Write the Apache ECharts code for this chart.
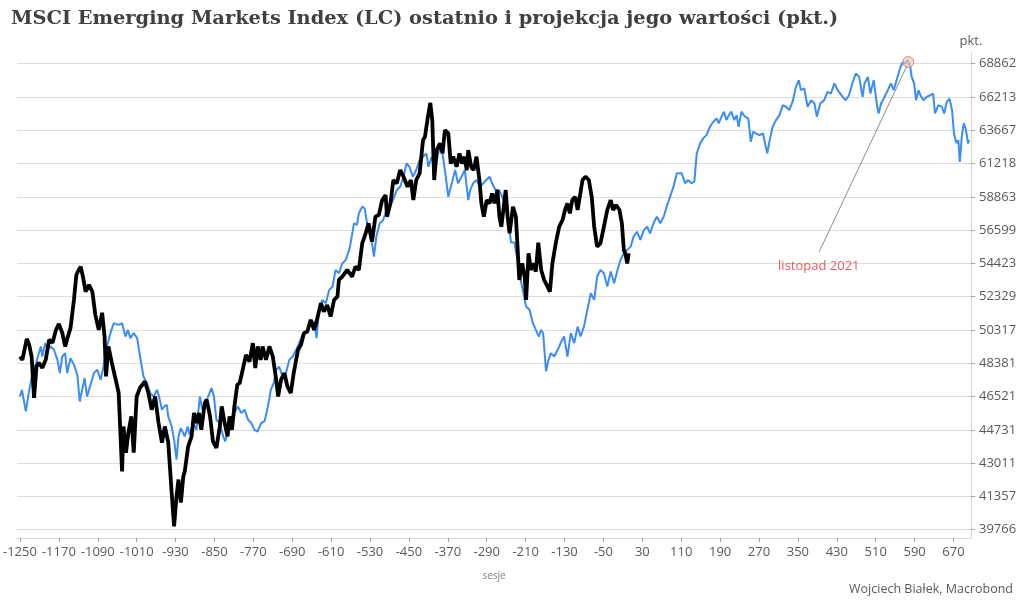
<!DOCTYPE html>
<html>
<head>
<meta charset="utf-8">
<script src="https://cdn.jsdelivr.net/npm/echarts@6/dist/echarts.min.js"></script>
<style>
html,body{margin:0;padding:0;background:#fff;}
#chart{width:1024px;height:611px;}
</style>
</head>
<body>
<div id="chart"></div>
<script>
// ---- data ----
const titleText = 'MSCI Emerging Markets Index (LC) ostatnio i projekcja jego wartości (pkt.)';
const xTickLabels = [-1250,-1170,-1090,-1010,-930,-850,-770,-690,-610,-530,-450,-370,-290,-210,-130,-50,30,110,190,270,350,430,510,590,670];
const yTickLabels = [39766,41357,43011,44731,46521,48381,50317,52329,54423,56599,58863,61218,63667,66213,68862];

// historical MSCI EM (black), [session, points]
const historyData = [[-1250,48766],[-1245,48574],[-1236,49795],[-1231,49446],[-1226,48766],[-1221,46449],[-1216,48193],[-1211,48400],[-1204,48121],[-1197,48574],[-1190,49737],[-1183,49562],[-1176,50317],[-1170,50679],[-1163,50143],[-1157,49347],[-1151,49969],[-1146,50438],[-1139,52129],[-1134,53690],[-1129,54004],[-1125,54211],[-1120,53501],[-1115,52641],[-1108,53062],[-1101,52622],[-1095,51223],[-1088,50317],[-1081,51344],[-1076,49928],[-1073,47635],[-1068,49347],[-1061,48400],[-1054,47563],[-1047,46726],[-1040,42595],[-1037,44908],[-1032,43544],[-1027,44576],[-1021,45445],[-1016,43544],[-1010,46521],[-1003,47005],[-993,47356],[-986,46726],[-979,45805],[-972,46521],[-965,45107],[-958,44060],[-952,44908],[-945,44060],[-938,41539],[-933,39923],[-928,41357],[-924,42184],[-919,41054],[-914,42349],[-911,42595],[-907,42531],[-904,43869],[-897,44385],[-892,45628],[-887,45091],[-882,45628],[-877,44731],[-870,46165],[-866,46344],[-859,45445],[-853,44127],[-846,43787],[-839,44908],[-835,45982],[-829,45091],[-823,44385],[-819,45445],[-814,44731],[-809,45982],[-803,47172],[-798,47267],[-792,48009],[-785,48865],[-778,48476],[-771,49545],[-766,48104],[-761,49347],[-755,48574],[-751,49347],[-744,48574],[-737,49347],[-730,48766],[-723,47451],[-719,46521],[-713,47451],[-706,47825],[-700,47077],[-693,46709],[-687,47825],[-682,48574],[-678,49155],[-672,49446],[-666,50126],[-659,50220],[-652,50921],[-645,50317],[-640,50818],[-631,51930],[-625,51410],[-618,51813],[-611,51120],[-604,52129],[-597,52329],[-594,53376],[-587,53583],[-577,54004],[-567,53583],[-560,54211],[-553,54004],[-546,55731],[-539,56384],[-533,57054],[-526,55835],[-519,57502],[-512,57615],[-505,58636],[-498,58981],[-495,57502],[-488,58410],[-482,60041],[-475,59808],[-468,60749],[-461,60275],[-453,59568],[-446,60041],[-441,58636],[-435,60041],[-428,60515],[-421,62933],[-417,63176],[-411,64683],[-406,65753],[-402,64431],[-398,60041],[-393,62198],[-386,62690],[-381,61955],[-376,63667],[-369,63423],[-364,61218],[-359,61710],[-352,60984],[-346,61955],[-341,61218],[-336,61710],[-331,60749],[-328,62198],[-322,60984],[-317,60749],[-311,61710],[-305,60041],[-301,58412],[-296,57502],[-290,58636],[-284,58410],[-279,59101],[-274,58410],[-268,59335],[-264,57502],[-260,56823],[-255,58181],[-251,59335],[-247,57502],[-243,56384],[-236,58181],[-230,57502],[-223,53376],[-217,54423],[-212,53583],[-209,52129],[-204,55076],[-199,54004],[-195,54423],[-189,53899],[-184,55770],[-178,54004],[-172,53376],[-165,52955],[-160,52641],[-155,54423],[-148,55731],[-141,56823],[-134,57278],[-129,57957],[-124,58410],[-119,57731],[-114,58636],[-108,58863],[-103,57957],[-93,60041],[-87,60275],[-80,60041],[-74,58863],[-69,56823],[-63,55509],[-56,55731],[-49,56823],[-42,57957],[-35,58636],[-30,57957],[-24,58296],[-17,57957],[-12,57054],[-8,55294],[-5,55076],[-1,54423],[2,55076]];

// projection (blue), [session, points]
const projectionData = [[-1250,46521],[-1246,46893],[-1241,46165],[-1238,45714],[-1232,46709],[-1228,47267],[-1224,47825],[-1217,48381],[-1211,48964],[-1207,49347],[-1204,48766],[-1198,49545],[-1193,49155],[-1187,49347],[-1180,49155],[-1173,48574],[-1168,47825],[-1163,48766],[-1157,48964],[-1153,47825],[-1146,48673],[-1139,48288],[-1132,47730],[-1127,46251],[-1122,46893],[-1117,47546],[-1112,46521],[-1105,47172],[-1098,47825],[-1091,48009],[-1084,47451],[-1078,48193],[-1071,49347],[-1064,50126],[-1057,50722],[-1047,50619],[-1040,50722],[-1033,49928],[-1028,50317],[-1023,49831],[-1016,50126],[-1009,49831],[-1003,48766],[-996,47635],[-989,47267],[-982,46709],[-975,46521],[-968,46893],[-964,46521],[-958,45805],[-953,45982],[-948,46072],[-945,45445],[-938,44908],[-933,44215],[-928,43183],[-924,44385],[-919,44822],[-911,44385],[-905,44908],[-901,44472],[-894,45091],[-887,44731],[-880,46521],[-875,45805],[-868,46165],[-863,46521],[-856,46988],[-851,46521],[-846,45268],[-839,45091],[-832,44385],[-828,44127],[-822,44643],[-815,45091],[-809,45628],[-802,45982],[-795,45628],[-788,45805],[-781,45268],[-774,45091],[-768,44731],[-761,44643],[-754,45091],[-747,45177],[-740,45982],[-734,46893],[-728,47267],[-723,48009],[-717,48193],[-710,47635],[-703,47825],[-696,48574],[-689,48766],[-682,49155],[-676,49545],[-669,50029],[-659,50317],[-652,50722],[-645,50818],[-640,49831],[-635,51525],[-628,52129],[-621,51930],[-614,52748],[-607,52955],[-601,54004],[-594,53797],[-587,54423],[-580,54640],[-573,55294],[-570,55731],[-563,57054],[-557,56941],[-553,57731],[-546,58181],[-541,58072],[-536,57054],[-530,56167],[-526,55731],[-522,54860],[-517,56167],[-510,57054],[-503,57278],[-496,57957],[-490,58181],[-483,58636],[-475,59335],[-468,59568],[-461,60275],[-455,61218],[-449,60984],[-442,60275],[-435,60749],[-428,61463],[-421,61710],[-414,61955],[-410,60984],[-403,61710],[-396,60749],[-390,61955],[-383,62448],[-376,60749],[-369,58863],[-362,59808],[-355,60749],[-349,59808],[-342,60275],[-335,60749],[-328,58636],[-324,59335],[-318,59808],[-311,60041],[-304,59568],[-297,59808],[-291,60041],[-284,60275],[-279,59808],[-272,59335],[-265,59335],[-258,58863],[-251,58181],[-245,57054],[-240,55770],[-233,55770],[-228,54860],[-223,53797],[-216,52748],[-209,51725],[-202,51525],[-195,50722],[-189,50317],[-183,49928],[-178,50317],[-174,50126],[-168,47918],[-163,48574],[-158,48964],[-151,48766],[-144,49155],[-138,49545],[-131,49928],[-124,48766],[-117,50126],[-110,49545],[-103,50516],[-97,49928],[-90,50516],[-83,51525],[-76,52541],[-69,52129],[-63,53583],[-56,54004],[-49,53797],[-42,52955],[-35,53899],[-28,53167],[-21,54004],[-15,54640],[-8,55076],[-1,55294],[6,55509],[12,56167],[19,56489],[26,55948],[33,56599],[40,56823],[46,56384],[53,57054],[60,57502],[67,57054],[74,57502],[80,58181],[87,58863],[94,59568],[101,60515],[104,60631],[111,60515],[118,59808],[124,60041],[131,59808],[137,59925],[142,61955],[149,62690],[155,63058],[162,63300],[169,63922],[176,64304],[183,64564],[187,64182],[193,64690],[198,65073],[203,64431],[208,64813],[213,65073],[219,64431],[224,64813],[228,63922],[234,65073],[241,64690],[248,64564],[253,62812],[258,63545],[264,63423],[271,63300],[278,63423],[281,63300],[287,61955],[292,62933],[298,63922],[305,64431],[312,64813],[319,65577],[326,65447],[332,65195],[339,65826],[346,67008],[352,67540],[356,66743],[363,66878],[370,65447],[377,65958],[384,65705],[389,64690],[396,65705],[404,65958],[411,66608],[418,66480],[425,67275],[432,66743],[442,66213],[448,65958],[455,66346],[462,67275],[469,68070],[476,67800],[483,66213],[487,67275],[494,67800],[499,66480],[506,67540],[513,65447],[516,64935],[521,65705],[528,66213],[535,66743],[541,67275],[547,66743],[554,67673],[561,68595],[566,68997],[571,68862],[576,69137],[581,68595],[584,67800],[589,67275],[593,65958],[598,66743],[602,66346],[608,65958],[615,66213],[622,66346],[628,66480],[632,64935],[639,65577],[646,65447],[651,64935],[656,65826],[662,66082],[667,65195],[671,63423],[676,62690],[680,62933],[683,61338],[687,63176],[691,64182],[695,63795],[700,62690],[702,62933]];

// annotation: projected peak (listopad 2021)
const peakPoint = [577, 68990];
const peakLabel = 'listopad 2021';
const peakLabelAt = [393, 54255];
const peakLineFrom = [394, 55183];

// ---- log transform (axis ticks grow by 4% each) ----
const BASE = yTickLabels[0], STEP = Math.log(1.04);
const tf = v => Math.log(v / BASE) / STEP;
const yTickPos = yTickLabels.map(tf);
const mapData = arr => arr.map(p => [p[0], tf(p[1])]);

const font = 'Open Sans, Noto Sans, sans-serif';
const chart = echarts.init(document.getElementById('chart'), null, {renderer: 'canvas'});
chart.setOption({
  animation: false,
  backgroundColor: '#ffffff',
  title: {
    text: titleText, left: 6, top: 4,
    textStyle: {fontFamily: 'DejaVu Serif, serif', fontWeight: 'bold', fontSize: 19.4, color: '#404040'}
  },
  grid: {left: 11, right: 53, top: 52, bottom: 73, containLabel: false},
  xAxis: {
    type: 'value', min: -1256, max: 706,
    name: 'sesje', nameLocation: 'middle', nameGap: 33,
    nameTextStyle: {fontFamily: font, fontSize: 10, color: '#7f7f7f'},
    axisLine: {show: true, onZero: false, lineStyle: {color: '#d9d9d9', width: 1}},
    axisTick: {show: true, length: 4, customValues: xTickLabels, lineStyle: {color: '#a6a6a6'}},
    axisLabel: {customValues: xTickLabels, margin: 8, fontFamily: font, fontSize: 13, color: '#595959', formatter: v => String(v)},
    splitLine: {show: false}
  },
  yAxis: {
    type: 'value', position: 'right', min: -0.25, max: 14.35,
    name: 'pkt.', nameLocation: 'end', nameGap: 4,
    nameTextStyle: {fontFamily: font, fontSize: 13, color: '#595959', align: 'center'},
    axisLine: {show: true, onZero: false, lineStyle: {color: '#d9d9d9', width: 1}},
    axisTick: {show: true, length: 4, customValues: yTickPos, lineStyle: {color: '#a6a6a6'}},
    axisLabel: {customValues: yTickPos, margin: 8, fontFamily: font, fontSize: 13, color: '#595959',
      formatter: v => String(yTickLabels[Math.round(v)])},
    splitLine: {show: true, lineStyle: {color: '#dedede', width: 1}}
  },
  series: [
    {
      name: 'projekcja', type: 'line', data: mapData(projectionData), showSymbol: false,
      lineStyle: {color: '#3b8cf3', width: 2}, z: 2, clip: false,
      markLine: {
        silent: true, symbol: ['none', 'none'],
        lineStyle: {color: '#8c8c8c', width: 1, type: 'solid'}, label: {show: false},
        data: [[{coord: [peakLineFrom[0], tf(peakLineFrom[1])]}, {coord: [peakPoint[0] - 3, tf(peakPoint[1]) - 0.12]}]]
      }
    },
    {
      name: 'historia', type: 'line', data: mapData(historyData), showSymbol: false,
      lineStyle: {color: '#000000', width: 3.8}, z: 3, clip: false
    },
    {
      name: 'szczyt', type: 'scatter', z: 4,
      data: [[peakPoint[0], tf(peakPoint[1])]],
      symbolSize: 11,
      itemStyle: {color: 'rgba(240,196,180,0.85)', borderColor: '#b48a7c', borderWidth: 1}
    },
    {
      name: 'etykieta', type: 'scatter', z: 4, symbolSize: 0,
      data: [[peakLabelAt[0], tf(peakLabelAt[1])]],
      label: {show: true, position: 'inside', formatter: peakLabel, fontFamily: font, fontSize: 13, color: '#e8312f'}
    }
  ],
  graphic: [
    {type: 'text', right: 11, top: 583,
     style: {text: 'Wojciech Białek, Macrobond', font: '12.5px ' + font, fill: '#595959'}}
  ]
});
</script>
</body>
</html>
